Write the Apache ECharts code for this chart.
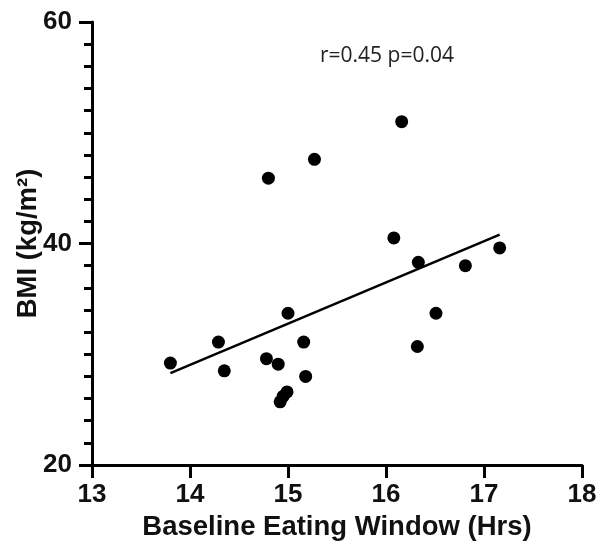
<!DOCTYPE html>
<html>
<head>
<meta charset="utf-8">
<script src="https://cdn.jsdelivr.net/npm/echarts@6/dist/echarts.min.js"></script>
<style>html,body{margin:0;padding:0;background:#fff}#c{width:600px;height:545px}</style>
</head>
<body>
<div id="c"></div>
<script>
var eatingWindow = [13.80,14.29,14.35,14.80,14.78,14.90,15.00,15.16,15.18,14.99,14.95,14.92,15.27,16.08,16.16,16.33,16.81,17.16,16.51,16.32];
var bmi          = [29.2, 31.1, 28.5, 45.9, 29.6, 29.1, 33.7, 31.1, 28.0, 26.6, 26.2, 25.7, 47.6, 40.5, 51.0, 38.3, 38.0, 39.6, 33.7, 30.7];
var fitX = [13.80, 17.16];
var fitY = [28.3, 40.8];
var xTicks = [13, 14, 15, 16, 17, 18];
var yTicks = [20, 40, 60];
var annotation = 'r=0.45 p=0.04';

var pts = eatingWindow.map(function(x, i){ return [x, bmi[i]]; });
var fit = fitX.map(function(x, i){ return [x, fitY[i]]; });

var chart = echarts.init(document.getElementById('c'));
var labelFont = {fontFamily:'Liberation Sans', fontWeight:'bold', fontSize:26, color:'#111'};
var titleFont = {fontFamily:'Liberation Sans', fontWeight:'bold', fontSize:27.5, color:'#111'};
chart.setOption({
  animation:false,
  grid:{left:92, right:18, top:22, bottom:80, containLabel:false, outerBoundsMode:'none'},
  xAxis:{
    type:'value', min:xTicks[0], max:xTicks[xTicks.length-1], interval:1,
    axisLine:{onZero:false, lineStyle:{color:'#000', width:3}},
    axisTick:{length:13, lineStyle:{color:'#000', width:3}},
    splitLine:{show:false},
    axisLabel:Object.assign({margin:17}, labelFont),
    name:'Baseline Eating Window (Hrs)', nameLocation:'middle', nameGap:48,
    nameTextStyle:titleFont
  },
  yAxis:{
    type:'value', min:yTicks[0], max:yTicks[yTicks.length-1], interval:20,
    axisLine:{onZero:false, lineStyle:{color:'#000', width:3}},
    axisTick:{length:13, lineStyle:{color:'#000', width:3}},
    minorTick:{show:true, splitNumber:10, length:8, lineStyle:{color:'#000', width:3}},
    splitLine:{show:false},
    axisLabel:Object.assign({margin:20}, labelFont),
    name:'BMI (kg/m²)', nameLocation:'middle', nameGap:50, nameMoveOverlap:false,
    nameTextStyle:titleFont
  },
  series:[
    {type:'scatter', data:pts, symbolSize:13, itemStyle:{color:'#000', opacity:1}},
    {type:'line', data:fit, showSymbol:false, symbol:'none', lineStyle:{color:'#000', width:2.5}}
  ],
  graphic:[{
    type:'text', left:320, top:46,
    style:{text:annotation, fontFamily:'Open Sans', fontSize:21, fill:'#222'}
  }]
});
</script>
</body>
</html>
